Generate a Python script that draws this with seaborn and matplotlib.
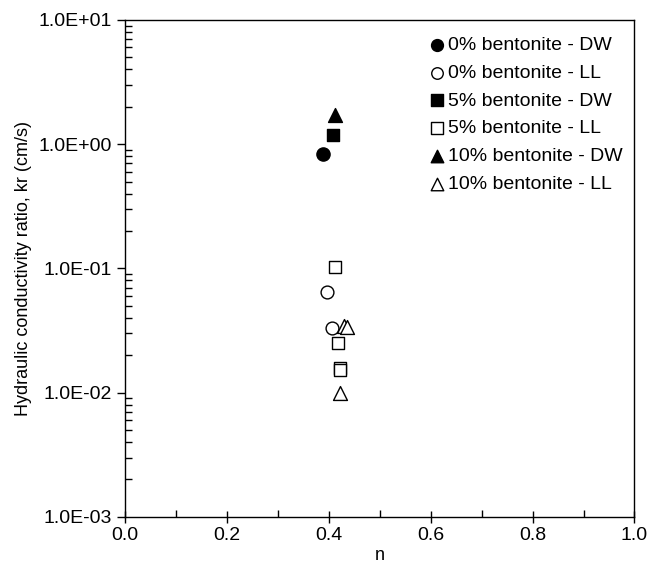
import matplotlib
matplotlib.use("Agg")
import matplotlib.pyplot as plt
import seaborn as sns
import pandas as pd
import numpy as np
from matplotlib.ticker import FuncFormatter, LogLocator, MultipleLocator, NullFormatter

sns.set_style("ticks")
plt.rcParams['font.family'] = ['Liberation Sans', 'DejaVu Sans']
plt.rcParams['text.color'] = 'black'
plt.rcParams['axes.labelcolor'] = 'black'

# Data
labels = ["0% bentonite - DW", "0% bentonite - LL", "5% bentonite - DW",
          "5% bentonite - LL", "10% bentonite - DW", "10% bentonite - LL"]
n_0dw = [0.390]
kr_0dw = [0.83]
n_0ll = [0.396, 0.406]
kr_0ll = [0.065, 0.033]
n_5dw = [0.408]
kr_5dw = [1.18]
n_5ll = [0.412, 0.419, 0.422, 0.422]
kr_5ll = [0.103, 0.025, 0.0157, 0.0152]
n_10dw = [0.413]
kr_10dw = [1.70]
n_10ll = [0.431, 0.437, 0.423]
kr_10ll = [0.0345, 0.034, 0.0099]

series_n = [n_0dw, n_0ll, n_5dw, n_5ll, n_10dw, n_10ll]
series_kr = [kr_0dw, kr_0ll, kr_5dw, kr_5ll, kr_10dw, kr_10ll]
markers = ["o", "o", "s", "s", "^", "^"]
filled = [True, False, True, False, True, False]
sizes = [90, 85, 80, 80, 100, 100]

frames = []
for lab, xs, ys in zip(labels, series_n, series_kr):
    frames.append(pd.DataFrame({"n": xs, "kr": ys, "series": lab}))
df = pd.concat(frames, ignore_index=True)

fig = plt.figure(figsize=(6.7, 5.68), dpi=100)
ax = fig.add_axes([0.186, 0.090, 0.761, 0.875])

for lab, m, f, s in zip(labels, markers, filled, sizes):
    sub = df[df["series"] == lab]
    sns.scatterplot(data=sub, x="n", y="kr", ax=ax, marker=m, s=s,
                    color="black" if f else "white", edgecolor="black",
                    linewidth=1.0, label=lab, zorder=3)

ax.set_yscale("log")
ax.set_xlim(0, 1.0)
ax.set_ylim(1e-3, 1e1)
ax.xaxis.set_major_locator(MultipleLocator(0.2))
ax.xaxis.set_minor_locator(MultipleLocator(0.1))
ax.xaxis.set_major_formatter(FuncFormatter(lambda v, p: f"{v:.1f}"))
ax.yaxis.set_major_locator(LogLocator(base=10, numticks=10))
ax.yaxis.set_minor_locator(LogLocator(base=10, subs=np.arange(2, 10), numticks=20))
ax.yaxis.set_minor_formatter(NullFormatter())
ax.yaxis.set_major_formatter(FuncFormatter(lambda v, p: f"{v:.1E}"))

ax.tick_params(axis="both", which="major", direction="inout", length=8, width=1,
               labelsize=14, color="black", labelcolor="black")
ax.tick_params(axis="y", which="major", direction="out", length=6)
ax.tick_params(axis="both", which="minor", direction="in", length=5, width=1, color="black")
for sp in ax.spines.values():
    sp.set_visible(True)
    sp.set_color("black")
    sp.set_linewidth(1.0)

ax.set_xlabel("n", fontsize=13, labelpad=2, color="black")
ax.set_ylabel("Hydraulic conductivity ratio, kr (cm/s)", fontsize=13, labelpad=4, color="black")

leg = ax.legend(loc="upper right", frameon=False, fontsize=14, handletextpad=0.0,
                handlelength=1.2, labelspacing=0.52, borderaxespad=0.2,
                bbox_to_anchor=(1.0, 0.99), markerscale=0.9)
for t in leg.get_texts():
    t.set_color("black")

fig.savefig("out.png", dpi=100)
